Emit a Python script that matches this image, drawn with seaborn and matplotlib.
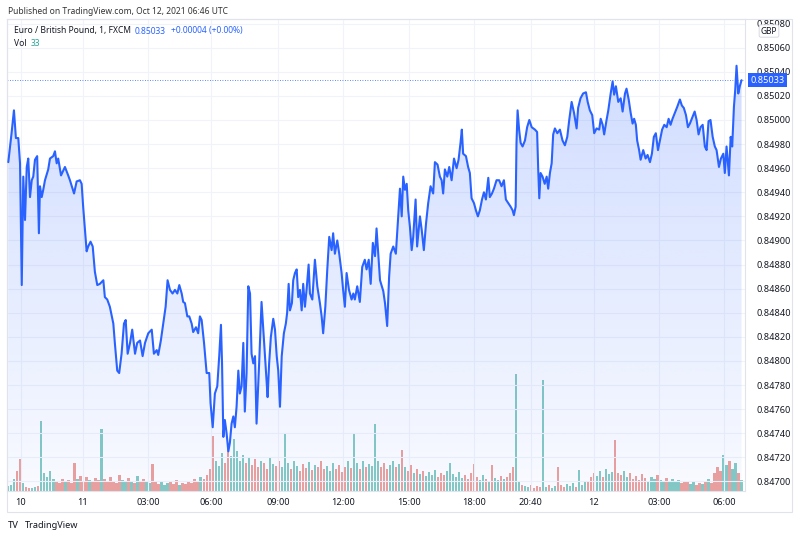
import numpy as np
import seaborn as sns
import matplotlib.pyplot as plt
from matplotlib.patches import Rectangle

sns.set_theme(style="white")
plt.rcParams['font.family'] = ['Noto Sans', 'DejaVu Sans']

# ------------------------------------------------------------
# data: EUR/GBP 1-minute, FXCM
# time in hours from Oct 11 00:00 (bar based, so the thin
# session after 20:40 is squeezed a little)
# ------------------------------------------------------------
t = [-3.44, -3.29, -3.18, -3.09, -2.98, -2.90, -2.82, -2.75, -2.67, -2.59,
     -2.52, -2.44, -2.36, -2.29, -2.21, -2.11, -2.03, -1.98, -1.90, -1.83,
     -1.75, -1.60, -1.52, -1.37, -1.29, -1.21, -1.14, -1.01, -0.83, -0.68,
     -0.60, -0.41, -0.29, -0.14, -0.06, 0.01, 0.09, 0.17, 0.24, 0.35,
     0.45, 0.55, 0.66, 0.78, 0.94, 1.01, 1.12, 1.24, 1.40, 1.47,
     1.58, 1.67, 1.78, 1.89, 1.97, 2.06, 2.17, 2.27, 2.40, 2.50,
     2.63, 2.75, 2.86, 3.01, 3.17, 3.27, 3.40, 3.47, 3.59, 3.70,
     3.81, 3.90, 4.01, 4.13, 4.24, 4.35, 4.44, 4.55, 4.62, 4.70,
     4.81, 4.90, 5.01, 5.08, 5.21, 5.31, 5.39, 5.47, 5.58, 5.70,
     5.82, 5.88, 5.98, 6.08, 6.19, 6.28, 6.36, 6.41, 6.47, 6.54,
     6.62, 6.70, 6.77, 6.85, 6.93, 7.00, 7.08, 7.16, 7.23, 7.31,
     7.39, 7.46, 7.54, 7.62, 7.70, 7.77, 7.85, 7.93, 8.00, 8.12,
     8.23, 8.31, 8.39, 8.46, 8.51, 8.58, 8.66, 8.77, 8.85, 8.93,
     9.00, 9.08, 9.16, 9.26, 9.35, 9.41, 9.48, 9.54, 9.63, 9.69,
     9.77, 9.85, 9.92, 10.00, 10.08, 10.15, 10.23, 10.31, 10.40, 10.46,
     10.57, 10.69, 10.80, 10.92, 11.00, 11.07, 11.17, 11.26, 11.35, 11.46,
     11.53, 11.61, 11.72, 11.81, 11.92, 11.99, 12.07, 12.15, 12.26, 12.38,
     12.46, 12.53, 12.64, 12.76, 12.87, 12.99, 13.07, 13.17, 13.26, 13.36,
     13.46, 13.53, 13.69, 13.84, 13.92, 14.02, 14.11, 14.18, 14.30, 14.42,
     14.53, 14.61, 14.69, 14.76, 14.84, 14.92, 14.99, 15.07, 15.15, 15.22,
     15.33, 15.40, 15.53, 15.61, 15.71, 15.81, 15.91, 16.02, 16.14, 16.22,
     16.34, 16.45, 16.53, 16.60, 16.68, 16.79, 16.88, 16.99, 17.10, 17.22,
     17.31, 17.40, 17.46, 17.52, 17.65, 17.75, 17.83, 17.91, 18.02, 18.11,
     18.20, 18.29, 18.39, 18.48, 18.57, 18.68, 18.75, 18.85, 18.94, 19.06,
     19.18, 19.29, 19.40, 19.49, 19.60, 19.71, 19.80, 19.86, 19.94, 19.98,
     20.03, 20.10, 20.17, 20.26, 20.37, 20.47, 20.57, 20.68, 20.83, 20.93,
     20.98, 21.03, 21.09, 21.18, 21.28, 21.37, 21.44, 21.52, 21.60, 21.67,
     21.75, 21.86, 21.98, 22.10, 22.21, 22.32, 22.41, 22.52, 22.63, 22.75,
     22.82, 22.93, 23.05, 23.18, 23.26, 23.36, 23.47, 23.56, 23.67, 23.79,
     23.86, 23.95, 24.02, 24.13, 24.21, 24.32, 24.41, 24.48, 24.56, 24.67,
     24.78, 24.87, 24.98, 25.05, 25.15, 25.24, 25.33, 25.40, 25.48, 25.54,
     25.63, 25.70, 25.82, 25.93, 26.02, 26.13, 26.22, 26.31, 26.40, 26.50,
     26.59, 26.69, 26.79, 26.90, 26.99, 27.08, 27.17, 27.28, 27.39, 27.51,
     27.60, 27.69, 27.79, 27.88, 27.97, 28.10, 28.19, 28.28, 28.37, 28.46,
     28.56, 28.66, 28.74, 28.83, 28.92, 29.02, 29.12, 29.20, 29.31, 29.40,
     29.51, 29.58, 29.66, 29.77, 29.85, 29.92, 30.00, 30.06, 30.12, 30.20,
     30.27, 30.35]

price = [0.84965, 0.84989, 0.85008, 0.84985, 0.84985, 0.84964, 0.84863, 0.84953, 0.84917, 0.84961,
         0.84968, 0.84936, 0.84950, 0.84953, 0.84967, 0.84970, 0.84906, 0.84945, 0.84936, 0.84942,
         0.84950, 0.84959, 0.84968, 0.84970, 0.84974, 0.84964, 0.84968, 0.84954, 0.84961, 0.84954,
         0.84950, 0.84939, 0.84949, 0.84950, 0.84947, 0.84928, 0.84909, 0.84891, 0.84895, 0.84899,
         0.84895, 0.84874, 0.84863, 0.84864, 0.84867, 0.84853, 0.84851, 0.84845, 0.84831, 0.84815,
         0.84792, 0.84790, 0.84806, 0.84831, 0.84834, 0.84806, 0.84815, 0.84826, 0.84806, 0.84815,
         0.84817, 0.84804, 0.84815, 0.84823, 0.84826, 0.84806, 0.84809, 0.84805, 0.84817, 0.84831,
         0.84845, 0.84867, 0.84859, 0.84856, 0.84859, 0.84856, 0.84863, 0.84856, 0.84849, 0.84848,
         0.84837, 0.84837, 0.84831, 0.84824, 0.84828, 0.84823, 0.84837, 0.84834, 0.84815, 0.84790,
         0.84790, 0.84765, 0.84745, 0.84773, 0.84779, 0.84804, 0.84830, 0.84798, 0.84737, 0.84751,
         0.84740, 0.84725, 0.84732, 0.84748, 0.84754, 0.84745, 0.84762, 0.84792, 0.84773, 0.84779,
         0.84815, 0.84758, 0.84790, 0.84862, 0.84856, 0.84806, 0.84798, 0.84804, 0.84748, 0.84798,
         0.84849, 0.84826, 0.84804, 0.84784, 0.84770, 0.84798, 0.84820, 0.84835, 0.84826, 0.84804,
         0.84792, 0.84762, 0.84804, 0.84823, 0.84831, 0.84840, 0.84864, 0.84842, 0.84848, 0.84867,
         0.84873, 0.84876, 0.84853, 0.84859, 0.84842, 0.84864, 0.84845, 0.84860, 0.84880, 0.84856,
         0.84851, 0.84884, 0.84862, 0.84848, 0.84837, 0.84823, 0.84845, 0.84876, 0.84903, 0.84892,
         0.84906, 0.84889, 0.84900, 0.84889, 0.84873, 0.84859, 0.84845, 0.84873, 0.84859, 0.84851,
         0.84856, 0.84851, 0.84862, 0.84849, 0.84878, 0.84884, 0.84876, 0.84884, 0.84864, 0.84898,
         0.84887, 0.84910, 0.84867, 0.84858, 0.84848, 0.84829, 0.84870, 0.84889, 0.84895, 0.84889,
         0.84920, 0.84943, 0.84920, 0.84953, 0.84942, 0.84947, 0.84925, 0.84911, 0.84892, 0.84903,
         0.84934, 0.84895, 0.84920, 0.84909, 0.84892, 0.84914, 0.84931, 0.84945, 0.84939, 0.84965,
         0.84963, 0.84953, 0.84950, 0.84939, 0.84959, 0.84953, 0.84961, 0.84950, 0.84968, 0.84960,
         0.84967, 0.84981, 0.84992, 0.84972, 0.84970, 0.84961, 0.84956, 0.84935, 0.84931, 0.84925,
         0.84920, 0.84925, 0.84934, 0.84940, 0.84934, 0.84952, 0.84936, 0.84939, 0.84943, 0.84950,
         0.84950, 0.84945, 0.84950, 0.84934, 0.84931, 0.84928, 0.84925, 0.84921, 0.84928, 0.84981,
         0.85008, 0.84992, 0.84981, 0.84978, 0.84983, 0.84994, 0.85000, 0.84994, 0.84992, 0.84990,
         0.84959, 0.84935, 0.84956, 0.84953, 0.84947, 0.84953, 0.84943, 0.84956, 0.84964, 0.84988,
         0.84993, 0.84989, 0.84992, 0.84983, 0.84979, 0.84986, 0.85000, 0.85015, 0.85006, 0.84993,
         0.85010, 0.85018, 0.85022, 0.85023, 0.85015, 0.85008, 0.85004, 0.84989, 0.84993, 0.84992,
         0.85001, 0.84996, 0.84988, 0.85000, 0.85008, 0.85022, 0.85032, 0.85021, 0.85028, 0.85015,
         0.85018, 0.85007, 0.85022, 0.85026, 0.85017, 0.85006, 0.84997, 0.85001, 0.84996, 0.84983,
         0.84975, 0.84967, 0.84975, 0.84968, 0.84971, 0.84965, 0.84972, 0.84986, 0.84989, 0.84975,
         0.84983, 0.84992, 0.84996, 0.84994, 0.85001, 0.84996, 0.85001, 0.85006, 0.85011, 0.85017,
         0.85012, 0.85010, 0.85004, 0.84994, 0.84997, 0.85003, 0.85007, 0.85000, 0.84988, 0.84994,
         0.84996, 0.84978, 0.84975, 0.84999, 0.85000, 0.84986, 0.84978, 0.84975, 0.84961, 0.84968,
         0.84972, 0.84956, 0.84978, 0.84954, 0.84986, 0.84978, 0.85011, 0.85025, 0.85045, 0.85022,
         0.85028, 0.85033]

# volume, one bar per ~8 minutes
vol = [5, 6, 12, 20, 32, 8, 4, 3, 3, 4, 5, 70, 18, 14, 20, 12,
       10, 8, 12, 9, 11, 8, 28, 12, 15, 10, 14, 11, 9, 13, 11, 62,
       12, 9, 14, 10, 8, 16, 11, 9, 13, 10, 8, 15, 9, 12, 10, 8, 27,
       9, 7, 10, 6, 8, 9, 7, 11, 6, 8, 7, 10, 8, 12, 9,
       14, 12, 16, 22, 55,
       30, 25, 38, 28, 42, 35, 52, 40, 30, 36, 28, 33,
       26, 32, 24, 30, 28, 22, 34, 27, 25, 30, 24, 58,
       28, 22, 30, 25, 20, 27, 23, 29, 21, 26, 24, 30, 22,
       25, 20, 28, 22, 26, 19, 24, 30, 23, 58,
       28, 22, 30, 24, 27, 25, 67,
       30, 24, 28, 22, 26, 30, 24, 27, 41,
       24, 20, 26, 18, 22, 17, 20, 15, 19, 16, 21,
       14, 18, 16, 20, 28, 17, 14, 19, 13, 16, 12, 18, 27,
       14, 11, 16, 12, 10, 26, 13, 11, 15, 12, 14, 18, 24, 117,
       10, 6, 5, 4, 6, 3, 5, 4, 111,
       4, 6, 3, 5, 24, 6, 4, 7, 5, 8, 4, 21, 6, 9,
       10, 14, 18, 15, 20, 14, 22, 17, 19, 51, 18,
       16, 20, 14, 18, 12, 15, 11, 17, 13, 10, 14, 12, 16, 11, 9, 13, 10, 12, 9, 11, 8, 10,
       9, 7, 10, 6, 8, 7, 9, 12, 8,
       18, 24, 20, 36, 26, 30, 22, 28, 18, 11]

tick_pos = [-2.86, 0.0, 3.0, 5.9, 8.99, 11.98, 15.02, 18.02, 20.64, 23.55, 26.54, 29.54]
tick_lab = ['10', '11', '03:00', '06:00', '09:00', '12:00', '15:00', '18:00',
            '20:40', '12', '03:00', '06:00']
price_ticks = ['0.84700', '0.84720', '0.84740', '0.84760', '0.84780', '0.84800',
               '0.84820', '0.84840', '0.84860', '0.84880', '0.84900', '0.84920',
               '0.84940', '0.84960', '0.84980', '0.85000', '0.85020', '0.85040',
               '0.85060', '0.85080']
last_price = 0.85033

# ============================================================
BLUE = '#2962ff'
TEXT = '#131722'
GRID = '#f0f3fa'
BORDER = '#e0e3eb'
y_lo, y_hi = 0.846921, 0.850838
x_lo, x_hi = -3.50, 30.51

fig = plt.figure(figsize=(8, 5.38), dpi=100)
ax = fig.add_axes([7/800, 47/538, 738/800, 472/538])
ax_vol = ax.twinx()
ax.set_zorder(ax_vol.get_zorder() + 1)
ax.patch.set_visible(False)

# volume bars
vt = np.linspace(t[0], t[-1], len(vol))
p_at = np.interp(vt, t, price)
up = np.diff(p_at, prepend=p_at[0]) >= 0
vcol = np.where(up, '#86cbc3', '#eea19c')
ax_vol.bar(vt, vol, width=0.75 * (vt[1] - vt[0]), color=vcol, linewidth=0)
ax_vol.set_ylim(0, 472)
ax_vol.set_yticks([])
for s in ax_vol.spines.values():
    s.set_visible(False)

# area gradient under the line
poly = ax.fill_between(t, price, y_lo, color='none', linewidth=0)
grad = np.zeros((256, 1, 4))
grad[..., 0] = 41 / 255
grad[..., 1] = 98 / 255
grad[..., 2] = 1.0
grad[:, 0, 3] = np.linspace(0.24, 0.03, 256)
im = ax.imshow(grad, extent=[x_lo, x_hi, y_lo, y_hi], aspect='auto',
               origin='upper', zorder=1)
im.set_clip_path(poly.get_paths()[0], transform=ax.transData)

sns.lineplot(x=t, y=price, ax=ax, color=BLUE, linewidth=1.5,
             estimator=None, sort=False, zorder=3)
ax.axhline(last_price, color=BLUE, linewidth=0.6, linestyle=(0, (1, 2)), zorder=2)

ax.set_xlim(x_lo, x_hi)
ax.set_ylim(y_lo, y_hi)
ax.set_xticks(tick_pos)
ax.set_xticklabels(tick_lab)
ax.set_yticks([float(v) for v in price_ticks])
ax.set_yticklabels(price_ticks)
ax.yaxis.tick_right()
ax.tick_params(axis='both', length=0, labelsize=6.6, colors=TEXT)
ax.tick_params(axis='y', pad=8)
ax.tick_params(axis='x', pad=5)
ax.grid(True, color=GRID, linewidth=0.8)
ax.set_axisbelow(True)
ax.set_xlabel('')
ax.set_ylabel('')
for s in ax.spines.values():
    s.set_color(BORDER)
    s.set_linewidth(0.8)

# last price tag on the scale
ax.annotate(f'{last_price:.5f}', xy=(1, last_price), xycoords=('axes fraction', 'data'),
            xytext=(4, 0), textcoords='offset points', ha='left', va='center',
            color='white', fontsize=6.6, annotation_clip=False, zorder=5,
            bbox=dict(boxstyle='square,pad=0.25', fc=BLUE, ec='none'))

# outer frame
fig.add_artist(Rectangle((7/800, 26/538), 785/800, 493/538, transform=fig.transFigure,
                         fill=False, ec=BORDER, lw=0.8))

def fx(px):
    return px / 800

def fy(py):
    return 1 - py / 538

fig.text(fx(769), fy(31), 'GBP', ha='center', va='center', fontsize=6.0, color=TEXT,
         bbox=dict(boxstyle='round,pad=0.2', fc='white', ec='#d1d4dc', lw=0.6))

HS = 6.1
fig.text(fx(8), fy(11), 'Published on TradingView.com, Oct 12, 2021 06:46 UTC',
         ha='left', va='center', fontsize=HS, color='#333333')

fig.text(fx(14), fy(31), 'Euro / British Pound, 1, FXCM', ha='left', va='center',
         fontsize=HS, color=TEXT)
fig.text(fx(135), fy(31), '0.85033', ha='left', va='center', fontsize=HS, color=BLUE)
fig.text(fx(171), fy(31), '+0.00004 (+0.00%)', ha='left', va='center', fontsize=HS, color=BLUE)
fig.text(fx(14), fy(43), 'Vol', ha='left', va='center', fontsize=HS, color=TEXT)
fig.text(fx(31), fy(43), '33', ha='left', va='center', fontsize=HS, color='#26a69a')

fig.text(fx(8), fy(526), 'TV', ha='left', va='center', fontsize=6.8, color=TEXT,
         fontweight='heavy')
fig.text(fx(25), fy(526), 'TradingView', ha='left', va='center', fontsize=6.6, color=TEXT)

fig.savefig('out.png', dpi=100, facecolor='white')
